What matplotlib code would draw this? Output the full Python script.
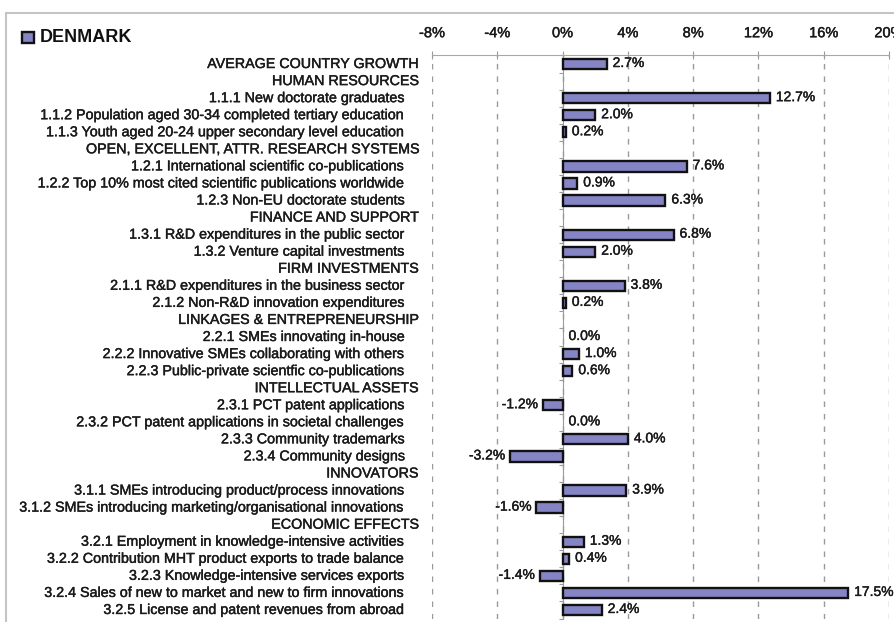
import numpy as np
import matplotlib.pyplot as plt
import matplotlib.patheffects as pe
from matplotlib.patches import Rectangle

plt.rcParams['font.family'] = ['Liberation Sans', 'DejaVu Sans']

# chart data (growth rates, %); None = section header without a bar
labels = [
    "AVERAGE COUNTRY GROWTH",
    "HUMAN RESOURCES",
    "1.1.1 New doctorate graduates",
    "1.1.2 Population aged 30-34 completed tertiary education",
    "1.1.3 Youth aged 20-24 upper secondary level education",
    "OPEN, EXCELLENT, ATTR. RESEARCH SYSTEMS",
    "1.2.1 International scientific co-publications",
    "1.2.2 Top 10% most cited scientific publications worldwide",
    "1.2.3 Non-EU doctorate students",
    "FINANCE AND SUPPORT",
    "1.3.1 R&D expenditures in the public sector",
    "1.3.2 Venture capital investments",
    "FIRM INVESTMENTS",
    "2.1.1 R&D expenditures in the business sector",
    "2.1.2 Non-R&D innovation expenditures",
    "LINKAGES & ENTREPRENEURSHIP",
    "2.2.1 SMEs innovating in-house",
    "2.2.2 Innovative SMEs collaborating with others",
    "2.2.3 Public-private scientfic co-publications",
    "INTELLECTUAL ASSETS",
    "2.3.1 PCT patent applications",
    "2.3.2 PCT patent applications in societal challenges",
    "2.3.3 Community trademarks",
    "2.3.4 Community designs",
    "INNOVATORS",
    "3.1.1 SMEs introducing product/process innovations",
    "3.1.2 SMEs introducing marketing/organisational innovations",
    "ECONOMIC EFFECTS",
    "3.2.1 Employment in knowledge-intensive activities",
    "3.2.2 Contribution MHT product exports to trade balance",
    "3.2.3 Knowledge-intensive services exports",
    "3.2.4 Sales of new to market and new to firm innovations",
    "3.2.5 License and patent revenues from abroad",
]
values = [2.7, None, 12.7, 2.0, 0.2, None, 7.6, 0.9, 6.3, None, 6.8, 2.0,
          None, 3.8, 0.2, None, 0.0, 1.0, 0.6, None, -1.2, 0.0, 4.0, -3.2,
          None, 3.9, -1.6, None, 1.3, 0.4, -1.4, 17.5, 2.4]
headers = ["AVERAGE COUNTRY GROWTH", "HUMAN RESOURCES",
           "OPEN, EXCELLENT, ATTR. RESEARCH SYSTEMS", "FINANCE AND SUPPORT",
           "FIRM INVESTMENTS", "LINKAGES & ENTREPRENEURSHIP",
           "INTELLECTUAL ASSETS", "INNOVATORS", "ECONOMIC EFFECTS"]
x_ticks = [-8, -4, 0, 4, 8, 12, 16, 20]
country = "DENMARK"

BAR = '#8585c6'
GRID = '#9a9a9a'
TXT = '#1a1a1a'
heavy = [pe.withStroke(linewidth=0.3, foreground=TXT)]

fig = plt.figure(figsize=(8.94, 6.22), dpi=100)
ax = fig.add_axes([0.4832, 0.0056, 0.5112, 0.9052])

n = len(labels)
y = np.arange(n)
vals = np.array([np.nan if v is None else v for v in values])
has_bar = ~np.isnan(vals) & (vals != 0)
ax.barh(y[has_bar], vals[has_bar], height=0.6, color=BAR,
        edgecolor='#111111', linewidth=1.7, zorder=3)

for yi, v in zip(y, vals):
    if np.isnan(v):
        continue
    if v >= 0:
        ax.annotate(f"{v:.1f}%", xy=(v, yi), xytext=(6, 1), textcoords='offset pixels',
                    ha='left', va='center', fontsize=10, color=TXT, path_effects=heavy)
    else:
        ax.annotate(f"{v:.1f}%", xy=(v, yi), xytext=(-5, 1), textcoords='offset pixels',
                    ha='right', va='center', fontsize=10, color=TXT, path_effects=heavy)

for yi, lab in zip(y, labels):
    dx = -14 if lab in headers else -27
    ax.annotate(lab, xy=(0, yi), xycoords=('axes fraction', 'data'),
                xytext=(dx, 0), textcoords='offset pixels',
                ha='right', va='center', fontsize=10.3, color=TXT, path_effects=heavy)

ax.set_xlim(-8, 20)
ax.set_ylim(n - 0.5, -0.5)

ax.xaxis.tick_top()
ax.set_xticks(x_ticks)
ax.set_xticklabels([f"{t}%" for t in x_ticks])
ax.tick_params(axis='x', direction='inout', length=6, color=GRID, pad=8,
               labelsize=10.5, labelcolor=TXT)
for t in ax.get_xticklabels():
    t.set_path_effects(heavy)
ax.set_yticks(np.arange(-0.5, n, 1))
ax.set_yticklabels([])
ax.tick_params(axis='y', direction='out', length=3, color=GRID)

ax.grid(axis='x', color=GRID, linestyle=(0, (4, 5)), linewidth=1)
ax.set_axisbelow(True)
ax.spines['left'].set_position(('data', 0))
ax.spines['left'].set_color(GRID)
ax.spines['top'].set_color('#a8a8a8')
ax.spines['right'].set_visible(False)
ax.spines['bottom'].set_visible(False)

# legend entry in the upper left corner
fig.add_artist(Rectangle((22 / 894, 1 - 43 / 622), 12 / 894, 11 / 622,
                         transform=fig.transFigure, facecolor=BAR,
                         edgecolor='#111111', linewidth=1.7))
fig.text(40 / 894, 1 - 37 / 622, country, fontsize=13, fontweight='bold',
         va='center', ha='left', color='#111111')

# outer frame of the chart area
fig.add_artist(Rectangle((6 / 894, -0.2), 1.2, 1.2 - 13 / 622,
                         transform=fig.transFigure, fill=False,
                         edgecolor='#c4c4c4', linewidth=1.5))

fig.savefig("out.png", dpi=100)
